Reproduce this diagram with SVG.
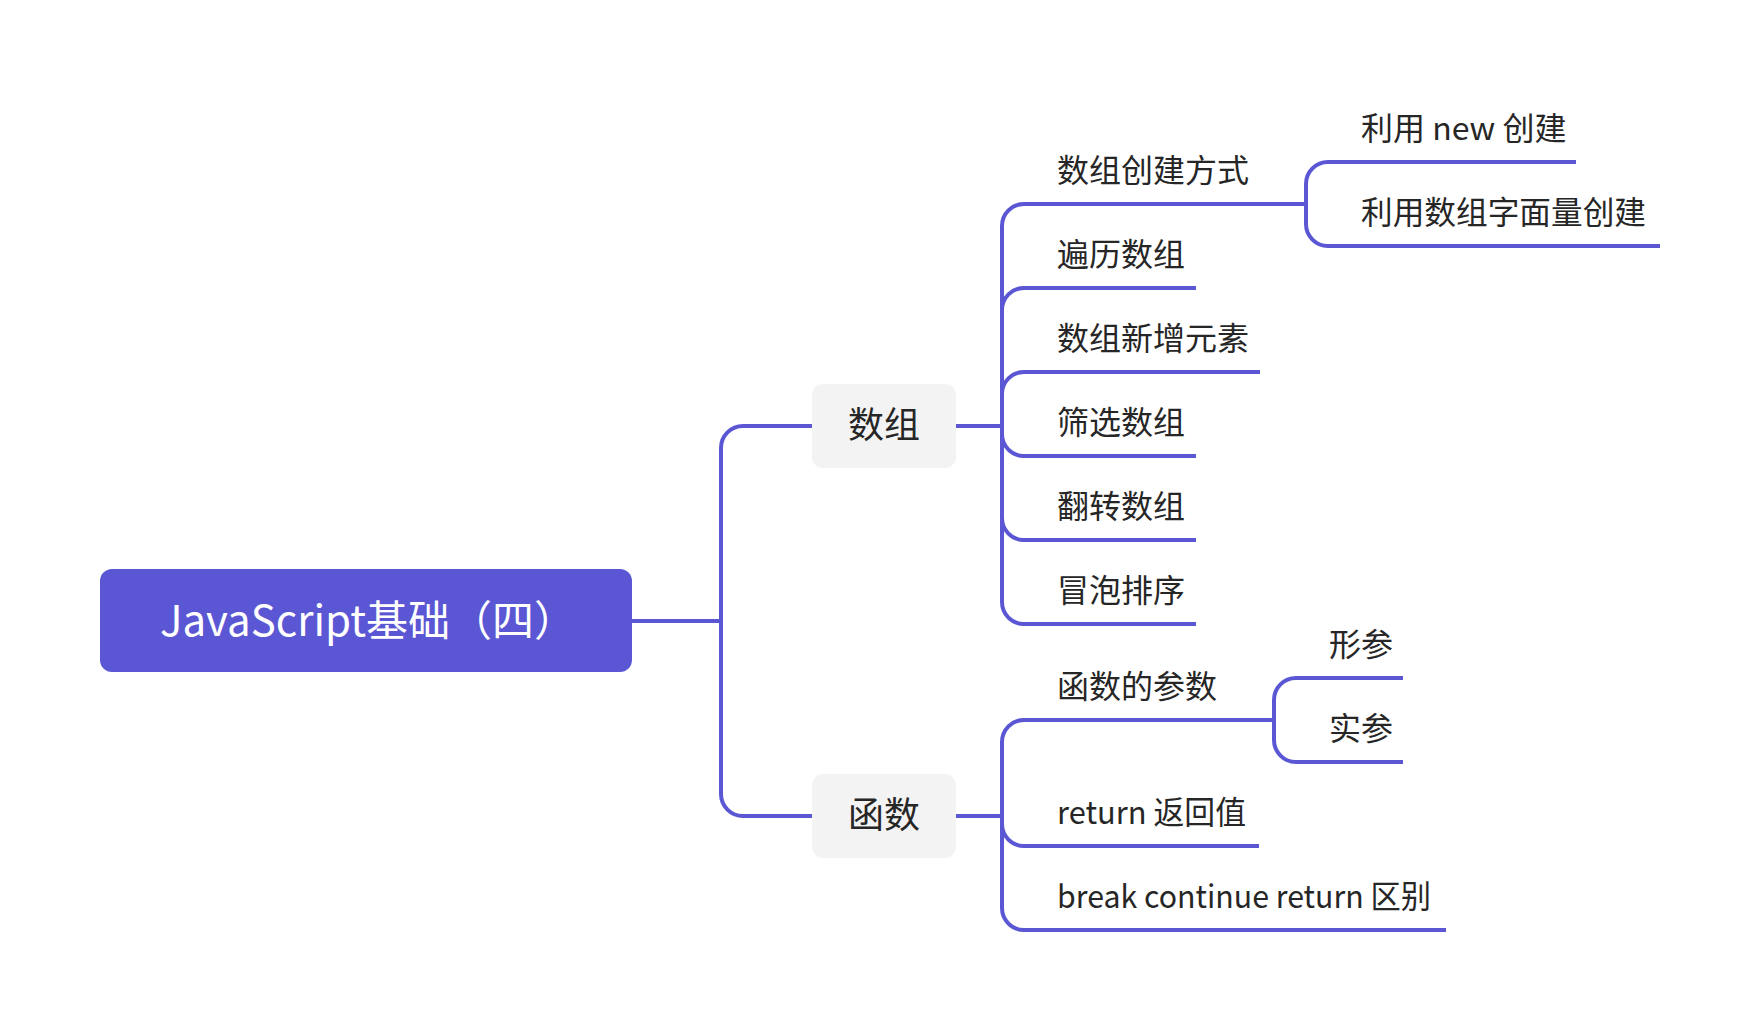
<svg xmlns="http://www.w3.org/2000/svg" width="1759" height="1032" viewBox="0 0 1759 1032">
<style>
  .edge { fill: none; stroke: #5B57D4; stroke-width: 4; }
  .lbl { font-family: "Noto Sans CJK SC", "Microsoft YaHei", sans-serif; font-size: 32px; fill: #262626; }
  .mid { font-family: "Noto Sans CJK SC", "Microsoft YaHei", sans-serif; font-size: 36px; fill: #262626; text-anchor: middle; }
  .box { fill: #F3F3F3; }
</style>
<rect width="1759" height="1032" fill="#FFFFFF"/>
<g id="connectors">
  <path class="edge" d="M632,621 H721"/>
  <path class="edge" d="M721,621 V448 A22,22 0 0 1 743,426 H812"/>
  <path class="edge" d="M721,621 V794 A22,22 0 0 0 743,816 H812"/>

  <path class="edge" d="M956,426 H1002"/>
  <path class="edge" d="M1002,426 V226 A22,22 0 0 1 1024,204 H1306"/>
  <path class="edge" d="M1002,426 V310 A22,22 0 0 1 1024,288 H1196"/>
  <path class="edge" d="M1002,426 V394 A22,22 0 0 1 1024,372 H1260"/>
  <path class="edge" d="M1002,426 V434 A22,22 0 0 0 1024,456 H1196"/>
  <path class="edge" d="M1002,426 V518 A22,22 0 0 0 1024,540 H1196"/>
  <path class="edge" d="M1002,426 V602 A22,22 0 0 0 1024,624 H1196"/>

  <path class="edge" d="M1306,204 V184 A22,22 0 0 1 1328,162 H1576"/>
  <path class="edge" d="M1306,204 V224 A22,22 0 0 0 1328,246 H1660"/>

  <path class="edge" d="M956,816 H1002"/>
  <path class="edge" d="M1002,816 V742 A22,22 0 0 1 1024,720 H1274"/>
  <path class="edge" d="M1002,816 V824 A22,22 0 0 0 1024,846 H1259"/>
  <path class="edge" d="M1002,816 V908 A22,22 0 0 0 1024,930 H1446"/>

  <path class="edge" d="M1274,720 V700 A22,22 0 0 1 1296,678 H1403"/>
  <path class="edge" d="M1274,720 V740 A22,22 0 0 0 1296,762 H1403"/>
</g>
<g id="root">
  <rect x="100" y="569" width="532" height="103" rx="12" fill="#5B57D4"/>
  <text x="160" y="636" font-family="Noto Sans CJK SC, Microsoft YaHei, sans-serif" font-size="42" fill="#FFFFFF">JavaScript基础（四）</text>
</g>
<g id="node-array">
  <rect class="box" x="812" y="384" width="144" height="84" rx="11"/>
  <text class="mid" x="884" y="438">数组</text>
</g>
<g id="node-function">
  <rect class="box" x="812" y="774" width="144" height="84" rx="11"/>
  <text class="mid" x="884" y="828">函数</text>
</g>
<g id="n-create"><text class="lbl" x="1057" y="182">数组创建方式</text></g>
<g id="n-new"><text class="lbl" x="1361" y="140">利用 new 创建</text></g>
<g id="n-literal"><text class="lbl" x="1361" y="224" textLength="285" lengthAdjust="spacingAndGlyphs">利用数组字面量创建</text></g>
<g id="n-traverse"><text class="lbl" x="1057" y="266">遍历数组</text></g>
<g id="n-add"><text class="lbl" x="1057" y="350">数组新增元素</text></g>
<g id="n-filter"><text class="lbl" x="1057" y="434">筛选数组</text></g>
<g id="n-reverse"><text class="lbl" x="1057" y="518">翻转数组</text></g>
<g id="n-bubble"><text class="lbl" x="1057" y="602">冒泡排序</text></g>
<g id="n-params"><text class="lbl" x="1057" y="698">函数的参数</text></g>
<g id="n-formal"><text class="lbl" x="1329" y="656">形参</text></g>
<g id="n-actual"><text class="lbl" x="1329" y="740">实参</text></g>
<g id="n-return"><text class="lbl" x="1057" y="824" textLength="189" lengthAdjust="spacingAndGlyphs">return 返回值</text></g>
<g id="n-diff"><text class="lbl" x="1057" y="908" textLength="374" lengthAdjust="spacingAndGlyphs">break continue return 区别</text></g>
</svg>
